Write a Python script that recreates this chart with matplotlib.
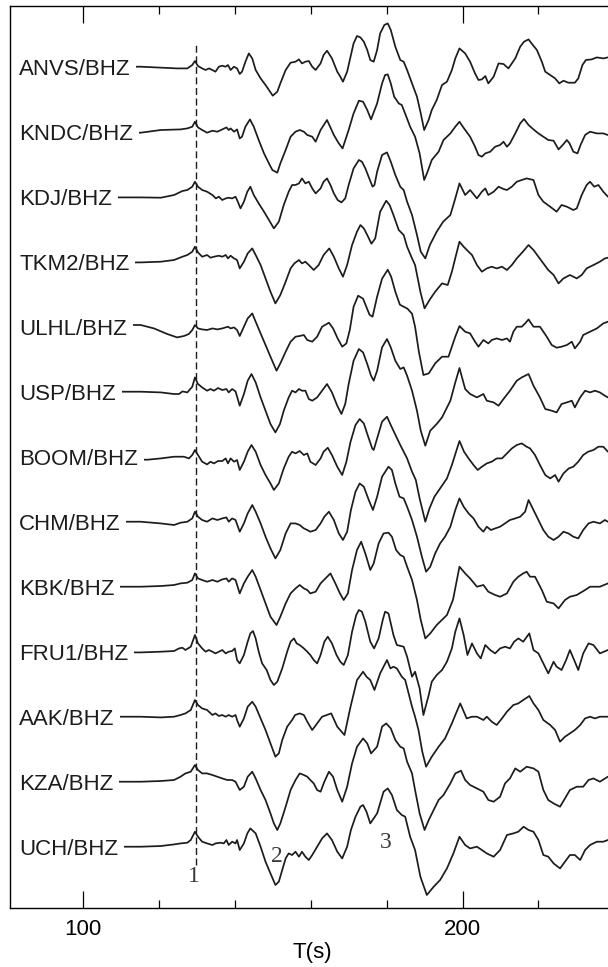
import matplotlib
matplotlib.use("Agg")
import matplotlib.pyplot as plt
from matplotlib.ticker import FixedLocator, MultipleLocator

plt.rcParams["font.family"] = ["Liberation Sans", "DejaVu Sans"]

# station labels, top to bottom
STATIONS = ["ANVS/BHZ", "KNDC/BHZ", "KDJ/BHZ", "TKM2/BHZ", "ULHL/BHZ", "USP/BHZ",
            "BOOM/BHZ", "CHM/BHZ", "KBK/BHZ", "FRU1/BHZ", "AAK/BHZ", "KZA/BHZ", "UCH/BHZ"]

ANVS = [(84, 0), (115.2, 0), (124.8, -1.7), (127.5, -1.7), (128.8, 1.7), (129.5, 5.7), (130.3, 0.7),
        (131.4, -1.7), (132.3, -3.3), (133.2, -1.7), (134.1, -3.3), (134.9, -5), (135.8, 0), (136.7, 1),
        (137.6, 0), (138.2, 1.7), (138.9, -3.3), (139.8, 0), (140.6, -1.7), (141.3, -7.3), (141.9, -5),
        (142.8, 5), (143.7, 13.3), (144.6, 8.3), (145.5, -3.3), (146.8, -11.7), (148.1, -18.3),
        (149.0, -23.3), (150.0, -29), (151.2, -25), (152.0, -16.7), (153.4, -3.3), (154.7, 4), (156.0, 5),
        (156.9, 7.3), (157.7, 3.3), (158.6, 5), (159.5, 5.7), (160.4, 0), (161.3, -3.3), (162.6, 3.3),
        (163.4, 11.7), (164.3, 16), (165.6, 8.3), (167.0, -5), (167.8, -10), (168.5, -15), (169.6, -5),
        (170.5, 10), (171.3, 23.3), (172.2, 30.7), (173.1, 29.3), (174.0, 25), (174.9, 16.7), (175.7, 6.7),
        (176.6, 5), (177.5, 16.7), (178.3, 33.3), (179.4, 41.7), (180.3, 43.3), (181.1, 36.7), (182.3, 20),
        (183.6, 6.7), (184.5, 5), (185.4, -3.3), (186.7, -16.7), (188.0, -30), (189.0, -46.7),
        (189.9, -63.3), (191.1, -53), (191.9, -43.3), (193.2, -33.3), (194.6, -18.3), (195.9, -15),
        (197.2, -3.3), (198.1, 8.3), (199.2, 18.3), (200.7, 13.3), (202.0, 5), (203.3, -6.7),
        (204.2, -13.3), (205.1, -12.7), (206.0, -9.3), (206.8, -16.7), (208.2, -10), (209.5, 3.3),
        (210.8, 2.7), (212.1, -1.7), (213.9, 8.3), (215.2, 20), (216.2, 25), (217.4, 27.3), (218.2, 23.3),
        (219.6, 16.7), (220.9, 5), (221.8, -5), (223.1, -8.3), (224.4, -11.7), (225.5, -16.7), (226.6, -14),
        (227.9, -16), (229.6, -16), (230.5, -11.7), (231.6, 1.7), (232.5, 6.7), (234.0, 7.3), (235.4, 9.3),
        (237.1, 8.3), (238.3, 9.3), (240, 9)]

KNDC = [(84, -1), (115.2, -1), (120.5, 1.7), (125.7, 2.3), (127.5, 3.3), (128.8, 5), (129.5, 10),
        (130.3, 4.3), (131.4, 1.7), (132.7, -1), (134.1, 1), (135.4, 0), (136.7, 2.3), (137.8, 4.3),
        (138.4, 1.7), (138.9, 3.3), (139.8, 0), (140.6, 2.3), (141.3, -6.7), (141.9, -5), (142.8, 5),
        (144.0, 12.3), (145.0, 5), (146.3, -8.3), (147.7, -21.7), (149.0, -31.7), (149.9, -38.3),
        (151.2, -41), (152.0, -31.7), (153.4, -18.3), (154.7, -5), (156.0, 0), (157.1, 1.7), (158.2, 0),
        (159.1, -3.3), (160.4, -5), (161.3, -10), (162.6, 1.7), (164.3, 11.7), (166.1, -3.3),
        (167.4, -11.7), (168.4, -16.7), (170.0, 1.7), (171.3, 18.3), (172.7, 31), (173.8, 30),
        (174.9, 21.7), (175.9, 12.3), (177.5, 28.3), (178.8, 48.3), (179.6, 56.7), (180.3, 57.3),
        (181.1, 48.3), (182.0, 35), (183.2, 28.3), (184.0, 26.7), (185.2, 15), (186.2, 5), (187.5, -5),
        (188.7, -21.7), (189.9, -48.3), (190.8, -40), (191.9, -28.3), (193.7, -20), (195.0, -8.3),
        (196.8, -1.7), (198.1, 5), (199.2, 10), (200.4, 3.3), (202.0, -5), (203.3, -15), (204.2, -23.3),
        (205.1, -25), (206.0, -21.7), (207.3, -20), (208.6, -15), (209.9, -13.3), (210.8, -10),
        (211.7, -15), (212.5, -11.7), (213.9, -1.7), (215.2, 8.3), (216.2, 12.7), (217.4, 6.7),
        (218.7, 2.3), (220.0, -1.7), (221.3, -5), (222.6, -8.3), (224.0, -9), (225.3, -17.7),
        (226.4, -13.3), (227.5, -8.3), (228.2, -11.7), (229.2, -20), (230.3, -21.7), (231.1, -13.3),
        (232.3, -3.3), (233.6, 0), (235.4, -1.7), (237.1, -1.7), (238.3, -3.3), (240, -3)]

KDJ = [(84, -0.7), (115.2, -0.7), (120.5, -1), (124.0, 1.7), (126.2, 5.7), (127.5, 6.7), (128.8, 10),
       (129.5, 15), (130.3, 10), (131.4, 6.7), (132.7, 5), (134.1, 1.7), (135.0, -1.7), (135.8, 0),
       (136.7, -3.3), (137.6, -1.7), (138.4, -1), (139.3, -1.7), (140.2, 0), (140.8, -5), (141.5, -11.7),
       (142.4, -5), (143.3, 5), (144.1, 10), (145.0, 1.7), (146.3, -6.7), (147.7, -15), (149.0, -23.3),
       (150.3, -31.7), (151.6, -25), (152.9, -8.3), (154.2, 5), (155.1, 11.7), (156.0, 11.7),
       (156.9, 13.3), (157.7, 18.3), (158.6, 13.3), (159.5, 15), (160.4, 8.3), (161.3, 3.3), (162.6, 8.3),
       (163.4, 15), (164.3, 18.3), (165.2, 11.7), (166.1, 3.3), (167.1, -3.3), (168.1, -5.7),
       (169.1, -1.7), (170.0, 11.7), (171.3, 28.3), (172.7, 36.7), (173.5, 35), (174.4, 28.3),
       (175.6, 16.7), (176.3, 10), (176.8, 11.7), (177.5, 25), (178.8, 41.7), (180.1, 44.3), (181.1, 35),
       (182.3, 21.7), (183.6, 10), (184.5, 6.7), (185.4, -5), (186.7, -18.3), (188.0, -38.3), (189.0, -55),
       (190.2, -61.7), (191.4, -48.3), (193.2, -35), (194.9, -25), (196.8, -18.3), (198.1, -1.7),
       (199.2, 13.3), (200.7, 1.7), (202.0, 6.7), (203.8, -1.7), (205.1, 5), (206.0, 8.3), (206.8, 1.7),
       (208.2, 5), (209.5, 10), (210.8, 7.7), (211.7, 6.7), (213.0, 10), (214.3, 15), (215.6, 16.7),
       (216.9, 18.3), (218.7, 16.7), (220.0, 1.7), (221.3, -5), (223.1, -10), (224.8, -15), (226.1, -8.3),
       (227.5, -10), (229.2, -13.3), (230.1, -11.7), (231.4, 1.7), (232.7, 11.7), (233.6, 15),
       (234.7, 10), (235.8, 11.7), (237.1, 5), (238.3, 0), (240, 0)]

TKM2 = [(84, -0.7), (115.2, -0.7), (120.5, 0), (124.0, 1.7), (126.2, 5), (127.5, 6.7), (128.8, 10),
        (129.5, 15), (130.3, 9.3), (131.4, 5), (132.7, 6.7), (133.6, 4), (134.5, 5), (135.8, 6), (136.7, 5),
        (137.6, 6.7), (138.2, 3.3), (138.9, 6), (139.8, 3.3), (140.6, 1.7), (141.3, -6.7), (142.4, 0),
        (143.4, 8.3), (144.6, 13.3), (145.5, 6.7), (146.8, -3.3), (148.1, -16.7), (149.4, -30),
        (150.7, -41.7), (152.0, -33.3), (153.4, -20), (154.7, -6.7), (155.7, -1.7), (156.9, 1.7),
        (157.7, -1.7), (158.6, 0), (159.5, -3.3), (160.8, -8.3), (162.1, -3.3), (163.4, 6.7), (164.9, 13.3),
        (166.1, 5), (167.4, -6.7), (168.5, -15), (169.6, -3.3), (170.9, 16.7), (172.2, 30), (173.1, 36.7),
        (174.0, 33.3), (174.9, 26.7), (176.0, 18), (177.0, 23.3), (178.3, 50), (179.9, 61), (180.8, 56.7),
        (181.8, 46.7), (183.2, 31.7), (184.5, 26.7), (185.4, 15), (186.7, 3.3), (187.5, -3.3), (188.9, -30),
        (190.0, -46.7), (191.3, -38.3), (192.8, -30), (194.6, -21.7), (196.1, -23.3), (197.2, -10),
        (198.3, 6.7), (199.2, 20), (200.3, 15), (201.6, 10), (202.5, 6.7), (203.8, -3.3), (205.1, -10),
        (206.4, -6.7), (207.7, -5), (209.0, -6.7), (210.4, -5), (211.7, -8.3), (213.0, -3.3), (214.3, 3.3),
        (215.9, 10), (217.4, 16.7), (218.7, 11.7), (220.0, 5), (221.3, -1.7), (222.6, -8.3), (224.0, -13.3),
        (225.3, -21.7), (226.6, -16.7), (228.3, -13.3), (230.1, -16.7), (231.4, -13.3), (232.7, -6.7),
        (234.5, -3.3), (236.2, 0), (237.5, 3.3), (238.3, 4), (240, 4)]

ULHL = [(84, 2), (115.2, 1.7), (118.7, -1.7), (122.2, -7.3), (124.8, -10.7), (126.6, -9.3), (127.9, -7.3),
        (128.8, -3.3), (129.5, 1.7), (130.3, -1.7), (131.4, -2.7), (132.7, -3.3), (134.1, -1.7),
        (135.4, -2.7), (136.7, -1.7), (138.2, 0), (138.9, -1.7), (139.8, -0.7), (140.6, -3.3), (141.3, -9.3),
        (142.4, 0), (143.4, 8.3), (144.6, 13.3), (145.5, 5), (146.8, -6.7), (148.1, -18.3), (149.4, -30),
        (151.0, -44), (152.0, -36.7), (153.4, -25), (154.7, -15), (156.0, -10), (157.1, -9.3), (158.2, -8.3),
        (159.1, -13.3), (160.4, -15), (161.7, -10), (163.0, 0), (164.8, 4), (165.9, -1.7), (167.1, -11.7),
        (168.3, -20), (169.4, -16.7), (170.3, -3.3), (171.3, 20), (172.5, 31), (173.8, 28), (175.5, 12),
        (176.3, 10), (177.5, 30), (178.8, 48), (180.3, 57), (181.2, 50), (182.3, 35), (183.5, 22),
        (184.5, 20), (185.5, 18), (186.7, 13), (187.5, 0), (188.5, -25), (189.7, -48.3), (191.1, -46.7),
        (192.8, -36.7), (194.6, -30), (196.3, -30), (198.1, -10), (199.2, 0.7), (200.7, -5), (202.0, -6.7),
        (203.3, -15), (204.2, -20), (205.5, -13.3), (206.8, -16.7), (207.7, -13.3), (209.0, -11.7),
        (210.4, -13.3), (211.7, -11.7), (212.5, -15), (213.4, -5), (214.3, 0), (215.6, 0), (216.5, 3.3),
        (217.4, 7.3), (218.7, 0), (220.4, 0), (222.2, -10), (223.5, -18.3), (224.8, -21), (226.1, -20),
        (227.5, -18.3), (228.8, -15), (229.6, -21.7), (231.0, -15), (231.8, -8.3), (233.6, -5), (235.4, -1.7),
        (237.1, 3.3), (238.3, 5), (240, 5)]

USP = [(84, 0), (115.2, 0), (120.5, -0.7), (124.0, -2.3), (125.3, -2.3), (126.2, 0.3), (127.5, -0.7),
       (128.8, 5), (129.5, 14.3), (130.3, 7.7), (131.4, 4.3), (132.7, 1), (133.6, 2.7), (134.5, 1),
       (135.6, 3.7), (136.7, 1.7), (137.8, 2.7), (138.4, -0.7), (139.3, 2.7), (140.2, 0.3), (141.3, -14),
       (142.4, -2.3), (143.4, 11), (144.4, 17.7), (145.5, 9.3), (146.8, -5.7), (148.1, -19), (149.4, -32.3),
       (150.7, -40.7), (151.9, -32.3), (152.9, -19), (154.2, -5.7), (155.1, 1), (156.0, -0.7), (156.9, 2.7),
       (157.7, 1), (158.6, 1), (159.5, -7.3), (160.4, -9), (161.7, -5.7), (163.0, 1), (164.3, 7.7),
       (165.6, -0.7), (167.0, -14), (168.1, -22.3), (169.1, -12.3), (170.0, 7.7), (171.3, 31), (172.7, 42.7),
       (173.8, 39.3), (174.9, 27.7), (175.9, 16), (176.6, 11), (177.5, 21), (178.8, 44.3), (180.1, 52.7),
       (181.1, 44.3), (182.3, 31), (183.6, 22.7), (184.5, 24.3), (185.4, 16), (186.7, 1), (188.0, -19),
       (189.0, -39), (190.2, -54), (191.5, -39), (193.2, -32.3), (194.6, -25.7), (196.8, -9), (198.1, 9.3),
       (199.2, 23.7), (200.7, 2.7), (202.0, -2.3), (203.8, -5.7), (205.5, -2.3), (206.4, -9), (208.2, -10.7),
       (209.5, -14), (210.8, -7.3), (212.5, 1), (214.3, 11), (215.6, 14.3), (217.4, 17.7), (218.7, 6),
       (220.4, -5.7), (221.8, -17.3), (223.5, -19), (224.8, -20.7), (226.1, -12.3), (227.5, -10.7),
       (228.8, -9), (229.6, -15.7), (231.0, -5.7), (232.3, 1), (233.6, -0.7), (234.9, 1), (236.2, -0.7),
       (237.5, -4), (238.3, -5.7), (240, -5.7)]

BOOM = [(84, -2), (117.0, -3), (120.5, -1.7), (124.0, 0), (126.6, 0), (127.9, -1.7), (128.8, 1.7),
        (129.5, 6.7), (130.3, 1.7), (131.4, -5), (132.7, -7.7), (133.6, -5), (134.5, -6.7), (135.6, -4.3),
        (136.7, -4.3), (137.6, -1.7), (138.2, -6.7), (138.9, -1.7), (139.8, -5), (140.6, -3.3),
        (141.3, -13.3), (142.4, -5), (143.4, 5), (144.4, 11.7), (145.5, 5), (146.8, -8.3), (148.1, -18.3),
        (149.4, -26.7), (150.3, -33.3), (151.6, -26.7), (152.9, -11.7), (154.2, 0), (155.1, 5), (156.0, 3.3),
        (157.1, 5.7), (158.2, 1.7), (159.1, 3.3), (159.9, -5), (161.3, -8.3), (162.6, -1.7), (163.4, 5),
        (164.5, 9), (165.6, 1.7), (167.0, -10), (168.3, -18.3), (169.4, -5), (170.5, 15), (171.8, 31.7),
        (172.9, 37.7), (174.0, 33.3), (175.0, 21.7), (176.2, 8.3), (176.6, 6.7), (177.5, 18.3), (178.8, 35),
        (180.1, 40), (181.1, 31.7), (182.3, 22), (183.6, 11.7), (184.5, 5), (185.4, -1.7), (186.7, -15),
        (187.7, -23.3), (188.7, -41.7), (190.2, -65), (191.3, -51.7), (192.6, -40), (194.1, -31.7),
        (195.9, -21.7), (197.2, -8.3), (198.3, 5), (199.2, 15.7), (200.4, 5), (201.6, -1.7), (202.9, -8.3),
        (204.0, -13.3), (205.1, -10), (206.4, -6.7), (207.7, -5), (209.0, -1.7), (210.4, -1.7), (211.7, 3.3),
        (213.0, 8.3), (214.3, 11.7), (215.6, 13.3), (216.9, 10), (217.8, 8.3), (219.1, 1.7), (220.4, -8.3),
        (221.8, -18.3), (223.1, -21.7), (224.4, -18.3), (225.3, -25), (226.6, -16.7), (228.0, -11.7),
        (229.2, -10), (230.5, -5), (231.8, 1.7), (233.1, 5), (234.5, 6.7), (235.8, 10), (237.1, 10),
        (238.3, 5), (240, 5)]

CHM = [(84, 0), (115.2, 0), (120.5, -1.7), (124.0, -3.3), (125.7, -1), (127.5, 0), (128.8, 3.3),
       (129.5, 10), (130.3, 5), (131.4, 1.7), (132.7, 0), (134.1, 3.3), (135.4, 1.7), (136.7, 3.3),
       (137.8, 4.3), (138.4, 0), (139.3, 3.3), (140.2, 1.7), (141.3, -10), (142.4, -1.7), (143.4, 8.3),
       (144.6, 16.7), (145.5, 10), (146.8, -1.7), (148.1, -15), (149.4, -26.7), (150.7, -36.7),
       (152.0, -28.3), (153.4, -11.7), (154.7, -1.7), (156.0, -1.7), (157.1, -3.3), (158.2, -6.7),
       (159.1, -8.3), (159.9, -10), (161.3, -8.3), (162.6, -1.7), (163.6, 5), (164.8, 10), (166.1, 1.7),
       (167.4, -11.7), (168.5, -18.3), (169.6, -10), (170.6, 11.7), (171.8, 30), (172.9, 38.3), (174.0, 35),
       (175.3, 21.7), (176.4, 11.7), (177.5, 25), (178.8, 45), (180.5, 55), (181.4, 51.7), (182.3, 38.3),
       (183.4, 25), (184.5, 23.3), (185.4, 15), (186.7, 1.7), (188.0, -15), (189.3, -35), (190.4, -50),
       (191.5, -45), (192.8, -31.7), (194.1, -21.7), (195.4, -15), (196.8, -5), (198.1, 11.7), (199.2, 23.3),
       (200.3, 15), (201.6, 8.3), (202.9, 3.3), (204.2, -5), (205.5, -10), (206.4, -5), (207.5, -8.3),
       (208.6, -6.7), (209.9, -5), (211.2, -1.7), (212.5, 1.7), (213.9, 3.3), (215.2, 5), (216.5, 10),
       (217.4, 21.7), (218.7, 11.7), (220.0, 1.7), (221.3, -8.3), (222.6, -15), (224.0, -18.3), (225.3, -15),
       (226.6, -10), (227.9, -11.7), (229.2, -15), (230.5, -16.7), (231.8, -8.3), (233.2, -1.7), (234.5, 0),
       (236.2, -1.7), (237.5, 1.7), (238.3, 0), (240, 0)]

KBK = [(84, 0), (115.2, 0), (120.5, 0.7), (124.0, 1.7), (125.7, 3.3), (127.5, 4), (128.8, 6.7),
       (129.5, 13.3), (130.3, 8.3), (131.4, 6.7), (132.7, 5), (134.1, 6.7), (135.4, 5), (136.7, 7.3),
       (137.8, 8.3), (138.4, 5), (139.3, 8.3), (140.2, 6.7), (141.3, -6.7), (142.4, 3.3), (143.4, 10),
       (144.6, 16.7), (145.5, 10), (146.8, -3.3), (148.1, -16.7), (149.4, -30), (151.0, -38.3), (152.0, -30),
       (153.4, -16.7), (154.7, -6.7), (156.0, -1.7), (157.1, 1.7), (158.2, -1.7), (159.1, -3.3),
       (159.9, -6.7), (161.3, -5), (162.6, 3.3), (163.9, 8.3), (165.2, 13.3), (166.5, 3.3), (167.7, -6.7),
       (168.7, -13.3), (169.8, -6.7), (170.9, 16.7), (172.2, 36.7), (173.3, 45), (174.5, 32), (175.7, 16.7),
       (176.6, 23.3), (177.9, 43.3), (179.2, 53.3), (180.5, 54), (181.4, 50), (182.5, 36.7), (183.6, 31.7),
       (184.5, 30), (185.4, 20), (186.7, 6.7), (188.0, -13.3), (189.0, -33.3), (190.2, -51.7),
       (191.5, -46.7), (193.2, -38.3), (195.9, -28.3), (197.5, -13), (199.2, 20), (200.7, 13.3), (202.0, 8.3),
       (203.8, 0), (205.5, 1.7), (206.8, -5), (208.6, -8.3), (209.9, -10), (211.7, -6.7), (213.4, 5),
       (214.7, 10), (216.0, 13.3), (216.9, 15), (217.8, 10), (219.1, 10), (220.9, -3.3), (222.2, -15),
       (224.0, -16.7), (225.3, -21.7), (227.0, -13.3), (228.3, -10), (230.1, -8.3), (232.3, -3.3),
       (233.6, 0), (236.2, 0), (238.3, 3.3), (240, 3.3)]

FRU1 = [(84, -0.7), (115.2, -0.7), (120.5, 0), (124.0, 0.7), (125.3, 3.3), (126.2, 4), (127.0, 1.7),
        (128.4, 5), (129.5, 16.7), (130.3, 8.3), (131.4, 3.3), (132.3, 0), (133.2, 1.7), (134.1, 0),
        (134.9, -1.7), (135.8, 0), (136.7, 1.7), (137.6, -1.7), (138.4, 0), (139.3, 0.7), (140.0, 3.3),
        (140.6, -8.3), (141.3, -11.7), (142.4, -3.3), (143.4, 10), (144.1, 18.3), (144.8, 20.7),
        (145.5, 13.3), (146.3, 0), (147.2, -11.7), (148.4, -18.3), (149.4, -28.3), (150.3, -33.3),
        (151.2, -30), (152.5, -16.7), (153.8, 0), (154.7, 10), (155.6, 13.3), (156.3, 8.3), (157.1, 6.7),
        (158.2, 3.3), (159.1, 0), (159.9, -3.3), (160.8, -8.3), (161.7, -11.7), (162.6, -3.3), (163.6, 10),
        (164.5, 15), (165.6, 8.3), (166.8, -3.3), (167.8, -10), (168.7, -13.3), (169.8, -3.3), (170.9, 20),
        (172.0, 36.7), (172.7, 41.7), (173.5, 40), (174.4, 30), (175.7, 10), (176.7, 3.3), (177.9, 13.3),
        (179.0, 32), (179.6, 40), (180.5, 38.3), (181.8, 16.7), (182.7, 6.7), (184.5, 5), (185.4, -5),
        (186.7, -25), (187.5, -20), (188.7, -36.7), (189.7, -63.3), (191.1, -43.3), (191.9, -30),
        (193.2, -23.3), (194.6, -18.3), (195.9, -10), (197.2, 3.3), (198.1, 20), (199.2, 33.3), (200.3, 16.7),
        (201.3, -3.3), (202.5, 8.3), (203.8, -1.7), (204.8, -6.7), (206.0, 6.7), (207.3, 1.7), (208.6, -1.7),
        (209.9, 3.3), (211.2, 5), (212.5, 3.3), (213.6, 10), (214.7, 13.3), (216.0, 10), (217.6, 18.3),
        (218.7, 1.7), (220.0, -1.7), (221.3, -11.7), (222.6, -21.7), (224.0, -10), (224.8, -15),
        (226.1, -18.3), (227.3, -8.3), (228.3, 1.7), (229.6, -10), (230.5, -18.3), (231.8, -1.7), (233.2, 8.3),
        (234.5, 6.7), (236.2, -1.7), (238.3, 1.7), (240, 1.7)]

AAK = [(84, 0), (115.2, 0), (120.5, -0.7), (124.0, 0), (125.7, 1.7), (127.0, 3.3), (128.4, 6.7),
       (129.5, 16.7), (130.3, 11.7), (131.4, 8.3), (132.7, 6.7), (134.1, 1.7), (134.9, 3.3), (135.8, 0.7),
       (136.7, 1.7), (137.6, 0), (138.4, 1.7), (139.3, 0), (140.2, 1.7), (140.6, -3.3), (141.3, -10),
       (142.4, -1.7), (143.4, 10), (144.6, 15), (145.5, 10), (146.8, -1.7), (148.1, -13.3), (149.4, -26.7),
       (150.7, -40), (151.6, -36.7), (152.5, -23.3), (153.8, -10), (155.1, -3.3), (155.9, 1.7), (157.1, 3.3),
       (158.2, 1.7), (159.1, -5), (160.4, -13.3), (161.7, -6.7), (163.0, 0), (165.4, 3.3), (167.0, -10),
       (168.9, -18.3), (170.5, 10), (172.2, 36.7), (173.8, 45), (174.7, 40), (175.7, 36.7), (176.8, 26.7),
       (178.3, 43.3), (180.1, 56.7), (181.0, 48.3), (181.8, 50), (182.7, 48.3), (184.0, 40), (184.9, 36.7),
       (185.8, 23.3), (186.7, 10), (187.5, 0), (188.4, -13.3), (189.4, -35), (190.4, -50), (191.9, -40),
       (193.7, -30), (195.4, -21.7), (197.2, -6.7), (198.1, 1.7), (199.4, 13.3), (201.1, -1.7), (202.5, 0),
       (203.8, 0), (205.5, -3.3), (206.4, 0), (207.7, -5), (209.0, -8.3), (210.4, -1.7), (211.7, 5),
       (213.4, 11.7), (214.7, 13.3), (216.0, 16.7), (217.6, 20.7), (218.7, 13.3), (220.0, 6.7),
       (221.3, -3.3), (223.1, -8.3), (224.4, -13.3), (225.7, -25), (227.0, -20), (228.3, -16.7),
       (229.6, -13.3), (231.0, -8.3), (232.3, -1.7), (233.6, 0), (234.9, -1.7), (236.2, 0), (238.3, 0),
       (240, 0)]

KZA = [(84, 0), (115.2, 0), (120.5, 0.7), (124.0, 1.7), (125.7, 5), (127.0, 8.3), (128.4, 10),
       (129.5, 16.7), (130.3, 11.7), (131.4, 8.3), (132.7, 8.3), (134.1, 6.7), (135.4, 5), (136.7, 3.3),
       (138.0, 1.7), (139.3, 1.7), (140.2, 0), (141.3, -8.3), (142.4, -5), (143.4, 5), (144.6, 10),
       (145.5, 3.3), (146.8, -8.3), (148.1, -18.3), (149.4, -31.7), (150.3, -41.7), (151.2, -48.3),
       (152.0, -41.7), (153.4, -25), (154.7, -8.3), (156.0, 1.7), (157.1, 8.3), (158.2, 6.7), (159.1, 5),
       (159.9, 1.7), (160.8, -1.7), (161.7, -8.3), (162.6, -10), (163.6, 0), (164.8, 10), (165.9, 5),
       (167.0, -8.3), (168.3, -20), (169.6, -5), (170.9, 18.3), (172.2, 35), (173.8, 43.3), (174.9, 38.3),
       (175.9, 28.3), (177.5, 35), (178.8, 55), (179.9, 58.3), (181.1, 53.3), (182.3, 41.7), (183.6, 35),
       (184.5, 33.3), (185.4, 20), (186.7, 8.3), (187.5, -8.3), (188.7, -31.7), (190.0, -48.3),
       (191.1, -38.3), (192.4, -28.3), (193.7, -18.3), (195.0, -13.3), (196.8, -1.7), (198.1, 8.3),
       (199.6, 11), (200.7, 1.7), (202.0, -3.3), (203.8, -6.7), (205.5, -10), (206.8, -18.3), (208.2, -20),
       (209.9, -15), (211.2, -1.7), (212.5, 3.3), (213.9, 13.3), (215.2, 10), (216.9, 15), (218.7, 13.3),
       (220.0, 10), (221.3, -8.3), (222.6, -18.3), (224.0, -21.7), (225.7, -25), (227.0, -16.7),
       (228.3, -8.3), (230.1, -5), (231.8, -5), (233.2, 1.7), (234.5, 3.3), (236.2, 0), (238.3, 5), (240, 5)]

UCH = [(84, 0), (115.2, 0), (120.5, 0.7), (124.0, 2.3), (125.7, 3.3), (127.5, 4), (128.4, 6.7),
       (129.5, 15), (130.3, 10), (131.4, 5), (132.7, 3.3), (134.1, 1.7), (134.9, 3.3), (136.3, 4),
       (137.1, 3.3), (137.8, 6.7), (138.4, 1.7), (139.3, 5), (140.2, 3.3), (140.6, 6.7), (141.3, -3.3),
       (142.4, 3.3), (143.3, 13.3), (144.1, 18.3), (145.5, 13.3), (146.8, 0), (148.1, -15), (149.4, -26.7),
       (150.7, -38.3), (151.6, -35), (152.5, -23.3), (153.4, -11.7), (154.2, -6.7), (155.1, -8.3),
       (156.0, -5), (156.9, -10), (157.7, -5), (158.6, -10), (159.5, -13.3), (160.4, -8.3), (161.7, 0),
       (163.0, 8.3), (164.3, 13.3), (165.6, 6.7), (167.0, -5), (168.3, -11.7), (169.6, 0), (170.6, 16.7),
       (171.8, 30), (173.1, 40), (173.8, 41.7), (174.7, 35), (175.7, 23.3), (177.5, 33.3), (179.2, 55),
       (180.3, 58.3), (181.4, 51.7), (182.7, 36.7), (184.0, 31.7), (184.9, 30), (186.2, 10), (187.5, -3.3),
       (188.9, -30), (190.6, -48.3), (192.4, -40), (194.1, -33.3), (195.9, -21.7), (197.6, -6.7),
       (199.2, 10), (200.7, 1.7), (202.0, -1.7), (203.8, 0), (205.1, -3.3), (206.4, -6.7), (208.2, -10),
       (209.9, -3.3), (211.7, 11.7), (213.4, 13.3), (214.7, 15), (216.1, 20), (217.4, 16.7), (218.7, 15),
       (220.0, 6.7), (221.3, -8.3), (222.6, -10), (224.0, -16.7), (225.7, -21.7), (227.0, -15),
       (228.3, -8.3), (229.6, -8.3), (231.0, -13.3), (232.3, -3.3), (233.6, 1.7), (235.4, 5), (237.1, 5),
       (238.3, 6.7), (240, 6.7)]

TRACES = [ANVS, KNDC, KDJ, TKM2, ULHL, USP, BOOM, CHM, KBK, FRU1, AAK, KZA, UCH]

PICK_T = 129.7          # dashed onset line
PHASES = [("1", 129.1, -810), ("2", 151.2, -790), ("3", 179.7, -776)]

SPACING = 65.0
INK = "#1c1c1c"

fig = plt.figure(figsize=(6.08, 9.67), dpi=100)
ax = fig.add_axes([0.016, 0.061, 0.9944, 0.9331])

for i, (name, trace) in enumerate(zip(STATIONS, TRACES)):
    t = [p[0] for p in trace]
    y = [p[1] - i * SPACING for p in trace]
    ax.plot(t, y, color=INK, lw=1.25, solid_joinstyle="round", zorder=2)
    ax.text(83.2, -i * SPACING - 3, name, fontsize=16, color=INK, ha="left", va="center",
            zorder=4, bbox=dict(boxstyle="square,pad=0.25", facecolor="white", edgecolor="none"))

ax.vlines(PICK_T, -798, 25, colors=INK, linestyles=(0, (5, 2.6)), lw=1.0, zorder=3)

for lab, tx, ty in PHASES:
    ax.text(tx, ty, lab, fontsize=17, color="#3a3a3a", ha="center", va="center",
            family=["Liberation Serif", "DejaVu Serif"])

ax.set_xlim(80.7, 240)
ax.set_ylim(-841.3, 61.0)

ax.xaxis.set_major_locator(FixedLocator([100, 200]))
ax.xaxis.set_minor_locator(MultipleLocator(20))
ax.tick_params(axis="x", which="both", direction="in", top=True, bottom=True, width=0.9,
               colors="black", labelsize=16, pad=8)
ax.tick_params(axis="x", which="major", length=12.5)
ax.tick_params(axis="x", which="minor", length=6)
ax.set_yticks([])
for s in ax.spines.values():
    s.set_linewidth(1.0)

ax.set_xlabel("T(s)", fontsize=16, labelpad=1)

fig.savefig("out.png", dpi=100)
